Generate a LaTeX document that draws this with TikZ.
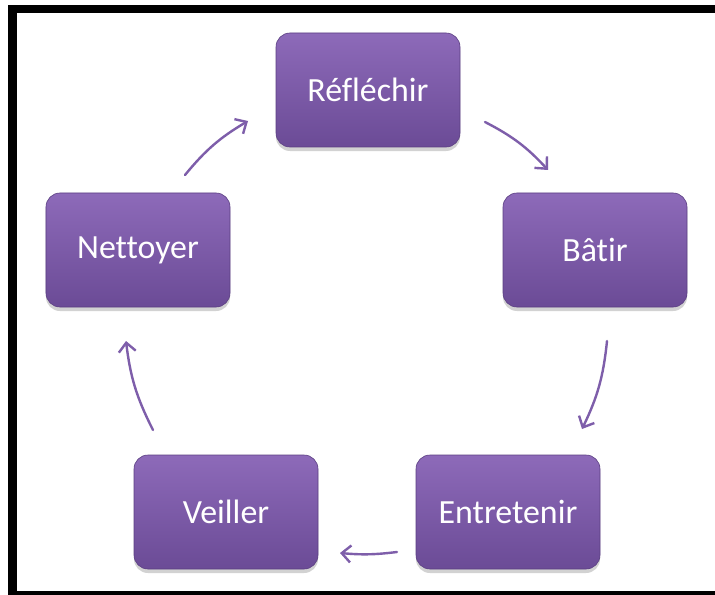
\documentclass[tikz,border=0pt]{standalone}
\usepackage{fontspec}
\setmainfont{Carlito}[Ligatures={NoCommon,NoRequired}]
\usetikzlibrary{arrows.meta,shadows}
\definecolor{boxtop}{HTML}{8D6AB9}
\definecolor{boxbot}{HTML}{6B4B96}
\definecolor{boxedge}{HTML}{5B3F82}
\definecolor{arrowcol}{HTML}{7E5EAA}
\tikzset{
  stage/.style={rounded corners=14bp, minimum width=184bp, minimum height=114bp,
    top color=boxtop, bottom color=boxbot, draw=boxedge, line width=0.6bp,
    text=white, font=\fontsize{34}{38}\selectfont,
    drop shadow={opacity=0.35, shadow xshift=0bp, shadow yshift=-4bp}},
  cycle/.style={draw=arrowcol, line width=2.4bp, line cap=round,
    -{Straight Barb[length=9bp,width=17bp,line width=2.4bp]}}
}
\begin{document}
\begin{tikzpicture}[x=1bp,y=-1bp]
\useasboundingbox (0,0) rectangle (715,595);
\clip (0,0) rectangle (715,595);
\fill[white] (-5,-5) rectangle (720,600);
% frame: left, top and bottom edges
\draw[line width=8.5bp] (760,9) -- (12.5,9) -- (12.5,595) -- (760,595);
% stages
\node[stage] (reflechir) at (368,90) {Réfléchir};
\node[stage] (batir) at (595,250) {Bâtir};
\node[stage] (entretenir) at (508,512) {Entretenir};
\node[stage] (veiller) at (226,512) {Veiller};
\node[stage] (nettoyer) at (138,250) {Nettoyer};
% arrow end points
\coordinate (s1) at (485,122); \coordinate (e1) at (548,170);
\coordinate (s2) at (607,341); \coordinate (e2) at (582,429);
\coordinate (s3) at (397,552); \coordinate (e3) at (340,553);
\coordinate (s4) at (153,430); \coordinate (e4) at (126,341);
\coordinate (s5) at (185,175); \coordinate (e5) at (248,121);
\draw[cycle] (s1) to[bend left=10] (e1);
\draw[cycle] (s2) to[bend left=10] (e2);
\draw[cycle] (s3) to[bend left=6] (e3);
\draw[cycle] (s4) to[bend left=10] (e4);
\draw[cycle] (s5) to[bend left=10] (e5);
\end{tikzpicture}
\end{document}
